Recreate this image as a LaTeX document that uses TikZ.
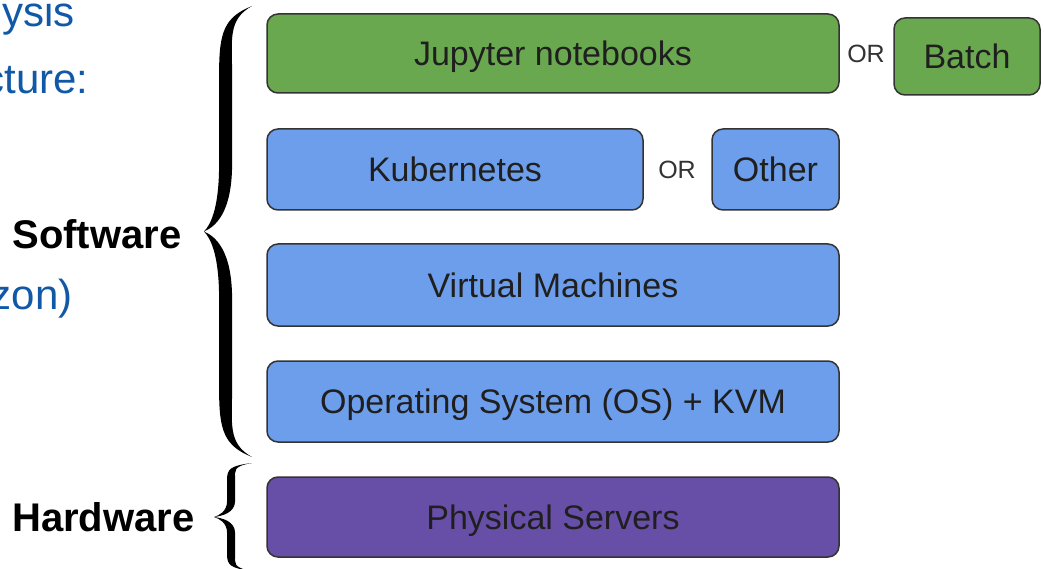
\documentclass[tikz,border=0pt]{standalone}
\usepackage{fontspec}
\setmainfont{Liberation Sans}
\usepackage{xcolor}
\definecolor{slideblue}{RGB}{17,88,166}
\definecolor{layergreen}{RGB}{106,168,79}
\definecolor{layerblue}{RGB}{109,158,235}
\definecolor{layerpurple}{RGB}{103,78,167}
\newcommand{\curlybrace}[5]{% ends x, top y, bottom y, tip x, half stem width
  \pgfmathsetmacro{\brmid}{(#2+#3)/2}
  \pgfmathsetmacro{\brhalf}{(#3-#2)/2}
  \pgfmathsetmacro{\brstem}{#4+0.45*(#1-#4)}
  \fill (#1,#2)
    .. controls ({\brstem-0.3*#5},{#2+0.05*\brhalf}) and ({\brstem-#5},{#2+0.12*\brhalf}) .. ({\brstem-#5},{#2+0.3*\brhalf})
    -- ({\brstem-#5},{\brmid-0.3*\brhalf})
    .. controls ({\brstem-#5},{\brmid-0.1*\brhalf}) and ({#4+0.3*(\brstem-#4)},{\brmid-0.03*\brhalf}) .. (#4,\brmid)
    .. controls ({#4+0.3*(\brstem-#4)},{\brmid+0.03*\brhalf}) and ({\brstem-#5},{\brmid+0.1*\brhalf}) .. ({\brstem-#5},{\brmid+0.3*\brhalf})
    -- ({\brstem-#5},{#3-0.3*\brhalf})
    .. controls ({\brstem-#5},{#3-0.12*\brhalf}) and ({\brstem-0.3*#5},{#3-0.05*\brhalf}) .. (#1,#3)
    .. controls ({\brstem+0.3*#5},{#3-0.06*\brhalf}) and ({\brstem+#5},{#3-0.15*\brhalf}) .. ({\brstem+#5},{#3-0.3*\brhalf})
    -- ({\brstem+#5},{\brmid+0.3*\brhalf})
    .. controls ({\brstem+#5},{\brmid+0.08*\brhalf}) and ({#4+0.5*(\brstem-#4)},{\brmid+0.02*\brhalf}) .. (#4,\brmid)
    .. controls ({#4+0.5*(\brstem-#4)},{\brmid-0.02*\brhalf}) and ({\brstem+#5},{\brmid-0.08*\brhalf}) .. ({\brstem+#5},{\brmid-0.3*\brhalf})
    -- ({\brstem+#5},{#2+0.3*\brhalf})
    .. controls ({\brstem+#5},{#2+0.15*\brhalf}) and ({\brstem+0.3*#5},{#2+0.06*\brhalf}) .. (#1,#2) -- cycle;
}

\begin{document}
\begin{tikzpicture}[x=1pt,y=-1pt,
  layer/.style={draw=black!80,line width=1.5pt,rounded corners=11pt,inner sep=0pt,
    text height=24.5pt,text depth=0pt,
    text=black!88,font=\fontsize{34}{40}\selectfont},
  ortext/.style={text=black!80,font=\fontsize{25}{30}\selectfont},
  sidelabel/.style={anchor=east,font=\bfseries\fontsize{40}{48}\selectfont},
  slidetext/.style={anchor=base east,text=slideblue,font=\fontsize{42}{50}\selectfont}]
  \useasboundingbox (0,0) rectangle (1044,569);
  \clip (0,0) rectangle (1044,569);
  % slide text cut off at the left edge
  \node[slidetext] (lineA) at (78,27){Analysis};
  \node[slidetext] (lineB) at (92,94){architecture:};
  \node[slidetext] (lineC) at (76,309){(Amazon)};
  % layers
  \node[layer,fill=layergreen,minimum width=572pt,minimum height=79pt] (jupyter) at (553,53.5){Jupyter notebooks};
  \node[layer,fill=layergreen,minimum width=146pt,minimum height=77pt] (batch) at (967,56.5){Batch};
  \node[layer,fill=layerblue,minimum width=376pt,minimum height=81pt] (kube) at (455,169.5){Kubernetes};
  \node[layer,fill=layerblue,minimum width=127pt,minimum height=81pt] (other) at (775.5,169.5){Other};
  \node[layer,fill=layerblue,minimum width=572pt,minimum height=82pt] (vm) at (553,285){Virtual Machines};
  \node[layer,fill=layerblue,minimum width=572pt,minimum height=81pt] (os) at (553,401.5){Operating System (OS) + KVM};
  \node[layer,fill=layerpurple,minimum width=572pt,minimum height=80pt] (phys) at (553,517){Physical Servers};
  \node[ortext] (orA) at (866,54){OR};
  \node[ortext] (orB) at (677,170){OR};
  % braces and their labels
  \curlybrace{252}{6}{457}{204}{6.5}
  \curlybrace{252}{463}{571}{214}{4}
  \node[sidelabel] (software) at (185,234){Software};
  \node[sidelabel] (hardware) at (198,517){Hardware};
\end{tikzpicture}
\end{document}
